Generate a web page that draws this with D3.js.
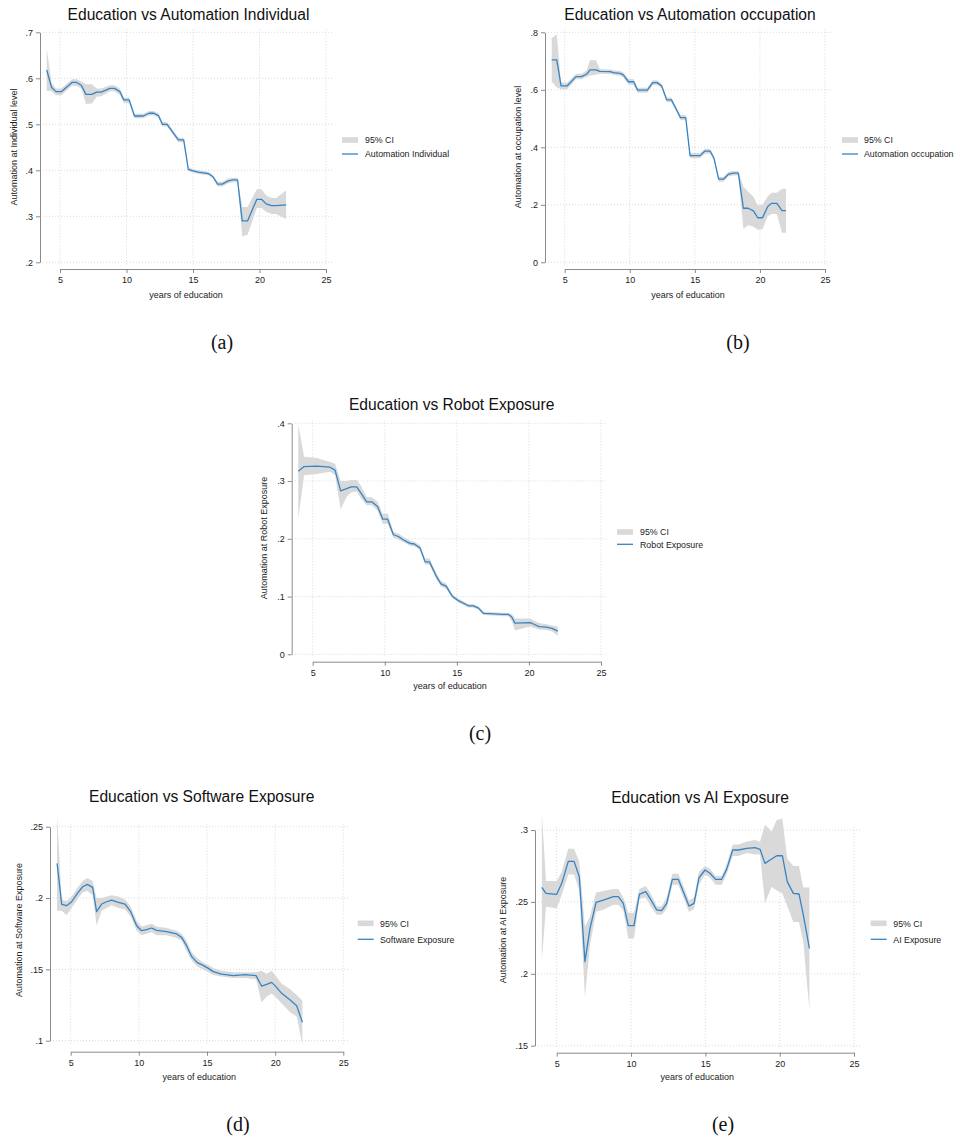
<!DOCTYPE html>
<html><head><meta charset="utf-8">
<script src="https://cdn.jsdelivr.net/npm/d3@7/dist/d3.min.js"></script>
<style>
body{margin:0;background:#fff}
svg{display:block}
text{font-family:"Liberation Sans",Arial,Helvetica,sans-serif}
</style></head><body>
<svg id="chart" width="956" height="1139"></svg>
<script>
// ---------- shared ticks ----------
const xTicks = [5, 10, 15, 20, 25];
const xTickLabels = ["5", "10", "15", "20", "25"];

// ---------- (a) Automation Individual ----------
const yearsA = [4.0,4.37,4.7,5.1,5.9,6.25,6.6,6.95,7.4,7.75,8.1,8.75,9.1,9.5,9.8,10.2,10.6,11.25,11.7,12.05,12.4,12.7,13.05,13.9,14.3,14.65,15.0,15.4,16.15,16.5,16.85,17.2,17.65,18.0,18.35,18.7,19.1,19.8,20.15,20.5,20.9,21.25,22.0];
const meanA = [.618,.580,.571,.571,.591,.591,.585,.565,.565,.570,.570,.578,.578,.571,.553,.553,.518,.518,.524,.524,.519,.500,.500,.466,.466,.402,.399,.396,.393,.386,.370,.370,.377,.379,.379,.290,.290,.337,.337,.327,.323,.323,.325];
const hiA = [.665,.590,.578,.578,.598,.598,.593,.587,.587,.578,.578,.585,.585,.578,.558,.558,.523,.523,.529,.529,.524,.505,.505,.471,.471,.406,.403,.400,.397,.390,.375,.375,.382,.384,.384,.320,.320,.359,.359,.345,.340,.340,.356];
const loA = [.573,.572,.563,.563,.584,.584,.578,.544,.545,.560,.561,.572,.572,.565,.546,.546,.513,.513,.519,.519,.514,.495,.495,.461,.461,.398,.395,.392,.389,.382,.365,.365,.372,.374,.374,.256,.260,.318,.318,.310,.305,.305,.294];
const yTicksA = [.2,.3,.4,.5,.6,.7];
const yLabelsA = [".2",".3",".4",".5",".6",".7"];

// ---------- (b) Automation occupation ----------
const yearsB = [4.0,4.39,4.72,5.2,5.87,6.3,6.7,6.95,7.4,7.7,8.5,8.74,9.25,9.5,9.9,10.3,10.6,11.35,11.76,12.1,12.45,12.84,13.2,13.6,13.9,14.3,14.63,15.4,15.78,16.17,16.47,16.83,17.2,17.6,17.96,18.34,18.73,19.1,19.5,19.83,20.2,20.6,20.9,21.3,21.7,22.0];
const meanB = [.704,.704,.614,.614,.646,.646,.655,.669,.669,.664,.663,.660,.657,.652,.628,.628,.599,.599,.625,.625,.613,.565,.565,.530,.503,.503,.371,.371,.387,.387,.362,.289,.289,.307,.310,.310,.188,.188,.179,.155,.155,.194,.205,.205,.180,.180];
const hiB = [.779,.793,.625,.625,.656,.656,.668,.704,.703,.672,.671,.668,.665,.661,.638,.638,.607,.607,.633,.633,.621,.573,.573,.538,.512,.512,.380,.380,.395,.395,.370,.297,.297,.315,.318,.318,.263,.245,.228,.198,.200,.230,.242,.242,.256,.256];
const loB = [.628,.609,.602,.603,.637,.637,.645,.650,.652,.656,.655,.652,.649,.644,.618,.618,.590,.590,.617,.617,.605,.557,.557,.522,.494,.494,.362,.362,.378,.378,.354,.280,.280,.299,.302,.302,.116,.130,.124,.113,.115,.160,.168,.168,.103,.103];
const yTicksB = [0,.2,.4,.6,.8];
const yLabelsB = ["0",".2",".4",".6",".8"];

// ---------- (c) Robot Exposure ----------
const yearsC = [4.0,4.4,5.28,6.2,6.55,6.94,7.36,7.66,8.05,8.35,8.75,9.1,9.5,9.86,10.2,10.6,10.94,11.3,11.75,12.05,12.45,12.8,13.1,13.6,13.9,14.25,14.7,15.1,15.8,16.14,16.5,16.84,17.53,18.2,18.57,18.8,19.03,20.07,20.35,20.7,21.2,21.6,22.0];
const meanC = [.317,.325,.326,.324,.319,.283,.287,.290,.290,.279,.264,.264,.256,.234,.234,.207,.204,.198,.192,.191,.184,.160,.160,.134,.122,.118,.100,.093,.084,.084,.080,.071,.070,.069,.069,.065,.054,.055,.052,.048,.047,.045,.040];
const hiC = [.398,.342,.340,.333,.330,.300,.300,.302,.302,.292,.272,.272,.264,.243,.244,.212,.209,.203,.197,.195,.189,.166,.166,.140,.127,.123,.104,.096,.087,.087,.083,.074,.073,.072,.072,.070,.062,.062,.058,.054,.052,.050,.048];
const loC = [.235,.310,.312,.316,.310,.251,.273,.280,.282,.270,.258,.258,.249,.226,.226,.202,.199,.194,.188,.187,.180,.155,.155,.129,.117,.114,.097,.090,.081,.081,.077,.068,.067,.066,.066,.058,.041,.048,.046,.043,.042,.040,.032];
const yTicksC = [0,.1,.2,.3,.4];
const yLabelsC = ["0",".1",".2",".3",".4"];

// ---------- (d) Software Exposure ----------
const yearsD = [4.0,4.34,4.7,5.07,5.49,5.88,6.22,6.61,6.9,7.27,7.64,8.0,8.5,8.99,9.4,9.84,10.2,10.57,10.94,11.3,12.04,12.77,13.14,13.5,13.88,14.29,14.68,15.1,15.46,16.07,16.93,17.79,18.6,19.0,19.38,19.74,19.99,20.48,21.1,21.58,22.0];
const meanD = [.2243,.1956,.1946,.1974,.2033,.2079,.2096,.2075,.1904,.1958,.1974,.1986,.1970,.1958,.1904,.1806,.1771,.1778,.1790,.1773,.1764,.1748,.1724,.1666,.1589,.1547,.1530,.1507,.1484,.1467,.1456,.1463,.1456,.1383,.1395,.1409,.1386,.1332,.1285,.1245,.1129];
const hiD = [.258,.199,.198,.201,.207,.212,.214,.212,.200,.200,.201,.202,.201,.199,.194,.184,.180,.181,.182,.180,.179,.177,.175,.170,.162,.158,.155,.153,.151,.149,.148,.148,.148,.149,.147,.149,.146,.140,.136,.132,.128];
const loD = [.191,.191,.188,.193,.199,.204,.205,.202,.181,.191,.193,.195,.193,.192,.187,.177,.174,.175,.176,.174,.174,.172,.170,.163,.156,.152,.150,.148,.146,.145,.144,.144,.143,.127,.131,.133,.131,.126,.120,.117,.097];
const yTicksD = [.1,.15,.2,.25];
const yLabelsD = [".1",".15",".2",".25"];

// ---------- (e) AI Exposure ----------
const yearsE = [4.0,4.28,5.0,5.34,5.78,6.17,6.52,6.9,7.24,7.65,8.14,8.81,9.15,9.48,9.82,10.2,10.56,10.99,11.32,11.73,12.06,12.4,12.78,13.18,13.52,13.9,14.24,14.57,14.98,15.31,15.69,16.1,16.43,16.84,17.22,17.78,18.34,18.68,19.01,19.46,19.8,20.18,20.51,20.92,21.3,21.59,22.0];
const meanE = [.2601,.2559,.2553,.2629,.2782,.2782,.2675,.2084,.2316,.2497,.2513,.2536,.2536,.2490,.2335,.2335,.2553,.2571,.2518,.2444,.2439,.2490,.2657,.2657,.2571,.2471,.2490,.2668,.2722,.2699,.2657,.2657,.2726,.2861,.2861,.2872,.2877,.2866,.2768,.2798,.2821,.2821,.2641,.2559,.2555,.2409,.2177];
const hiE = [.3116,.2645,.2645,.2710,.2870,.2870,.2780,.2328,.2400,.2566,.2575,.2590,.2590,.2530,.2425,.2425,.2590,.2610,.2560,.2470,.2470,.2530,.2695,.2695,.2610,.2510,.2530,.2710,.2750,.2730,.2680,.2680,.2760,.2900,.2900,.2920,.2930,.2919,.3037,.2990,.3070,.3080,.2800,.2750,.2750,.2600,.2600];
const loE = [.2096,.2467,.2455,.2550,.2690,.2690,.2580,.1840,.2200,.2432,.2445,.2480,.2480,.2440,.2245,.2245,.2520,.2530,.2470,.2410,.2410,.2450,.2620,.2620,.2530,.2430,.2450,.2620,.2690,.2670,.2620,.2620,.2690,.2820,.2820,.2840,.2830,.2830,.2490,.2606,.2580,.2560,.2470,.2360,.2360,.2220,.1748];
const yTicksE = [.15,.2,.25,.3];
const yLabelsE = [".15",".2",".25",".3"];

// ---------- texts ----------
const titles = ["Education vs Automation Individual","Education vs Automation occupation","Education vs Robot Exposure","Education vs Software Exposure","Education vs AI Exposure"];
const yTitles = ["Automation at Individual level","Automation at occupation level","Automation at Robot Exposure","Automation at Software Exposure","Automation at AI Exposure"];
const seriesNames = ["Automation Individual","Automation occupation","Robot Exposure","Software Exposure","AI Exposure"];
const captions = ["(a)","(b)","(c)","(d)","(e)"];
const xTitle = "years of education";
const ciLabel = "95% CI";

// ---------- layout (pixel positions only) ----------
const layouts = [
  {x5:60,   x25:326,   yTop:32.3,  yBot:262.3,  ax:40,    ay:269,    tx:188.5, ty:20,    ytx:16.5,  yty:147, xtx:186,   xty:298,  lx:342,   lr:140,   ll:154,   ltx:365,   cx:222, cy:349},
  {x5:564.7,x25:825,   yTop:32.3,  yBot:262.3,  ax:545,   ay:269,    tx:690,   ty:20,    ytx:521,   yty:147, xtx:688,   xty:298,  lx:842,   lr:140,   ll:154,   ltx:864,   cx:738, cy:349},
  {x5:312.7,x25:601,   yTop:423.3, yBot:654.3,  ax:291.7, ay:661.7,  tx:451.7, ty:410,   ytx:267,   yty:538, xtx:450,   xty:689,  lx:617,   lr:532,   ll:544.3, ltx:640,   cx:480, cy:740},
  {x5:70.7, x25:343.3, yTop:826.7, yBot:1040.7, ax:50,    ay:1051.7, tx:201.7, ty:802,   ytx:21.5,  yty:930, xtx:199.3, xty:1080, lx:357.7, lr:923.3, ll:939.3, ltx:380,   cx:238, cy:1131},
  {x5:556.7,x25:854,   yTop:830,   yBot:1045.7, ax:535,   ay:1052.7, tx:700,   ty:802.7, ytx:505.5, yty:930, xtx:697.3, xty:1080, lx:870.7, lr:923.3, ll:939.3, ltx:893.3, cx:723, cy:1131}
];

const series = [
  {years:yearsA, mean:meanA, lo:loA, hi:hiA, yTicks:yTicksA, yLabels:yLabelsA},
  {years:yearsB, mean:meanB, lo:loB, hi:hiB, yTicks:yTicksB, yLabels:yLabelsB},
  {years:yearsC, mean:meanC, lo:loC, hi:hiC, yTicks:yTicksC, yLabels:yLabelsC},
  {years:yearsD, mean:meanD, lo:loD, hi:hiD, yTicks:yTicksD, yLabels:yLabelsD},
  {years:yearsE, mean:meanE, lo:loE, hi:hiE, yTicks:yTicksE, yLabels:yLabelsE}
];

const LINE = "#3585c6", BAND = "#d9d9d9", AXIS = "#8a8a8a", GRID = "#cfcfcf";
const svg = d3.select("#chart");

series.forEach((s, i) => {
  const L = layouts[i];
  const g = svg.append("g");
  const x = d3.scaleLinear().domain([xTicks[0], xTicks[xTicks.length-1]]).range([L.x5, L.x25]);
  const y = d3.scaleLinear().domain([s.yTicks[0], s.yTicks[s.yTicks.length-1]]).range([L.yBot, L.yTop]);

  // grid
  g.append("g").selectAll("line").data(s.yTicks).join("line")
    .attr("x1", L.ax + 3).attr("x2", L.x25 + 6)
    .attr("y1", d => y(d)).attr("y2", d => y(d))
    .attr("stroke", GRID).attr("stroke-width", 0.8).attr("stroke-dasharray", "1,2");
  g.append("g").selectAll("line").data(xTicks).join("line")
    .attr("x1", d => x(d)).attr("x2", d => x(d))
    .attr("y1", L.yTop - 3).attr("y2", L.yBot + 3)
    .attr("stroke", GRID).attr("stroke-width", 0.8).attr("stroke-dasharray", "1,2");

  const pts = s.years.map((yr, k) => ({yr, m: s.mean[k], lo: s.lo[k], hi: s.hi[k]}));
  g.append("path").datum(pts)
    .attr("d", d3.area().x(d => x(d.yr)).y0(d => y(d.lo)).y1(d => y(d.hi)))
    .attr("fill", BAND);
  g.append("path").datum(pts)
    .attr("d", d3.line().x(d => x(d.yr)).y(d => y(d.m)))
    .attr("fill", "none").attr("stroke", LINE).attr("stroke-width", 1.3).attr("stroke-linejoin", "round");

  // axes
  const ya = g.append("g").attr("transform", `translate(${L.ax},0)`)
    .call(d3.axisLeft(y).tickValues(s.yTicks).tickFormat((d, k) => s.yLabels[k]).tickSize(4).tickSizeOuter(0).tickPadding(3));
  const xa = g.append("g").attr("transform", `translate(0,${L.ay})`)
    .call(d3.axisBottom(x).tickValues(xTicks).tickFormat((d, k) => xTickLabels[k]).tickSize(4).tickSizeOuter(0).tickPadding(4));
  [ya, xa].forEach(a => {
    a.select(".domain").attr("stroke", AXIS);
    a.selectAll(".tick line").attr("stroke", AXIS);
    a.selectAll(".tick text").attr("fill", "#222").style("font-size", "9px").style("font-family", '"Liberation Sans",Arial,sans-serif');
  });

  // titles
  svg.append("text").attr("x", L.tx).attr("y", L.ty).attr("text-anchor", "middle")
    .style("font-size", "15.6px").attr("fill", "#111").text(titles[i]);
  svg.append("text").attr("transform", `translate(${L.ytx},${L.yty}) rotate(-90)`).attr("text-anchor", "middle")
    .style("font-size", "9px").attr("fill", "#222").text(yTitles[i]);
  svg.append("text").attr("x", L.xtx).attr("y", L.xty).attr("text-anchor", "middle")
    .style("font-size", "9px").attr("fill", "#222").text(xTitle);

  // legend
  svg.append("rect").attr("x", L.lx).attr("y", L.lr - 2.8).attr("width", 16).attr("height", 5.6).attr("fill", BAND);
  svg.append("text").attr("x", L.ltx).attr("y", L.lr + 3.3).style("font-size", "8.8px").attr("fill", "#222").text(ciLabel);
  svg.append("line").attr("x1", L.lx).attr("x2", L.lx + 16).attr("y1", L.ll).attr("y2", L.ll)
    .attr("stroke", LINE).attr("stroke-width", 1.3);
  svg.append("text").attr("x", L.ltx).attr("y", L.ll + 3.2).style("font-size", "8.8px").attr("fill", "#222").text(seriesNames[i]);

  // caption
  svg.append("text").attr("x", L.cx).attr("y", L.cy).attr("text-anchor", "middle")
    .style("font-family", '"Liberation Serif","DejaVu Serif",serif').style("font-size", "20px").attr("fill", "#111").text(captions[i]);
});
</script>
</body></html>
